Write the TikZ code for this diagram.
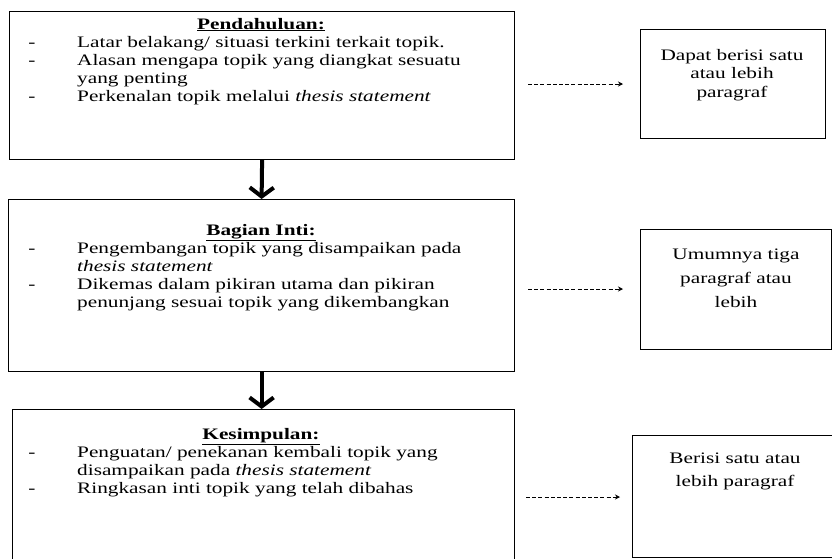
\documentclass[tikz,border=0pt]{standalone}
\usepackage{fontspec}
\setmainfont{Liberation Serif}[FakeStretch=1.33]
\usetikzlibrary{arrows.meta}
\begin{document}
\begin{tikzpicture}[x=1pt,y=-1pt,
  mainbox/.style={draw, line width=1.2pt, rectangle, anchor=north west, inner sep=0pt},
  sidebox/.style={draw, line width=1pt, rectangle, anchor=north west, inner sep=0pt},
  txt/.style={font=\fontsize{16}{18}\selectfont, inner sep=0pt, anchor=base west},
  ctxt/.style={font=\fontsize{16}{18}\selectfont, inner sep=0pt, anchor=base},
  flow/.style={line width=4pt, -{Straight Barb[length=9pt,width=24pt]}},
  side/.style={line width=0.9pt, dash pattern=on 4pt off 2.2pt, -{Stealth[length=5pt,width=5pt]}}
]
\useasboundingbox (0,0) rectangle (832,558);
\fill[white] (0,0) rectangle (832,558);

% main boxes
\node[mainbox, minimum width=505pt, minimum height=148pt] (b1) at (9,11) {};
\node[mainbox, minimum width=506pt, minimum height=172pt] (b2) at (8,199) {};
\node[mainbox, minimum width=502pt, minimum height=160pt] (b3) at (12,409) {};

% side boxes
\node[sidebox, minimum width=185pt, minimum height=109pt] (r1) at (640,29) {};
\node[sidebox, minimum width=191pt, minimum height=120pt] (r2) at (640,229) {};
\node[sidebox, minimum width=202pt, minimum height=122pt] (r3) at (632,435) {};

% box 1 text
\node[ctxt] (t1) at (261,29) {\underline{\textbf{Pendahuluan:}}};
\node[ctxt] (d11) at (32,47) {-};
\node[txt] (l11) at (77,47) {Latar belakang/ situasi terkini terkait topik.};
\node[ctxt] (d12) at (32,65) {-};
\node[txt] (l12) at (77,65) {Alasan mengapa topik yang diangkat sesuatu};
\node[txt] (l13) at (77,83) {yang penting};
\node[ctxt] (d13) at (32,101) {-};
\node[txt] (l14) at (77,101) {Perkenalan topik melalui \textit{thesis statement}};

% box 2 text
\node[ctxt] (t2) at (261,235) {\underline{\textbf{Bagian Inti:}}};
\node[ctxt] (d21) at (32,253) {-};
\node[txt] (l21) at (77,253) {Pengembangan topik yang disampaikan pada};
\node[txt] (l22) at (77,271) {\textit{thesis statement}};
\node[ctxt] (d22) at (32,289) {-};
\node[txt] (l23) at (77,289) {Dikemas dalam pikiran utama dan pikiran};
\node[txt] (l24) at (77,307) {penunjang sesuai topik yang dikembangkan};

% box 3 text
\node[ctxt] (t3) at (261,439) {\underline{\textbf{Kesimpulan:}}};
\node[ctxt] (d31) at (32,457) {-};
\node[txt] (l31) at (77,457) {Penguatan/ penekanan kembali topik yang};
\node[txt] (l32) at (77,475) {disampaikan pada \textit{thesis statement}};
\node[ctxt] (d32) at (32,493) {-};
\node[txt] (l33) at (77,493) {Ringkasan inti topik yang telah dibahas};

% side texts
\node[ctxt] (s11) at (732,60) {Dapat berisi satu};
\node[ctxt] (s12) at (732,78) {atau lebih};
\node[ctxt] (s13) at (732,97) {paragraf};
\node[ctxt] (s21) at (736,259) {Umumnya tiga};
\node[ctxt] (s22) at (736,283) {paragraf atau};
\node[ctxt] (s23) at (736,307) {lebih};
\node[ctxt] (s31) at (735,463) {Berisi satu atau};
\node[ctxt] (s32) at (735,486) {lebih paragraf};

% flow arrows
\draw[flow] (b1.south) -- (b2.north);
\draw[flow] (b2.south) -- (b2.south |- b3.north);

% dashed arrows
\coordinate (a1s) at (528,84);
\coordinate (a1e) at (623,84);
\coordinate (a2s) at (528,289);
\coordinate (a2e) at (623,289);
\coordinate (a3s) at (526,497);
\coordinate (a3e) at (620,497);
\draw[side] (a1s) -- (a1e);
\draw[side] (a2s) -- (a2e);
\draw[side] (a3s) -- (a3e);
\end{tikzpicture}
\end{document}
